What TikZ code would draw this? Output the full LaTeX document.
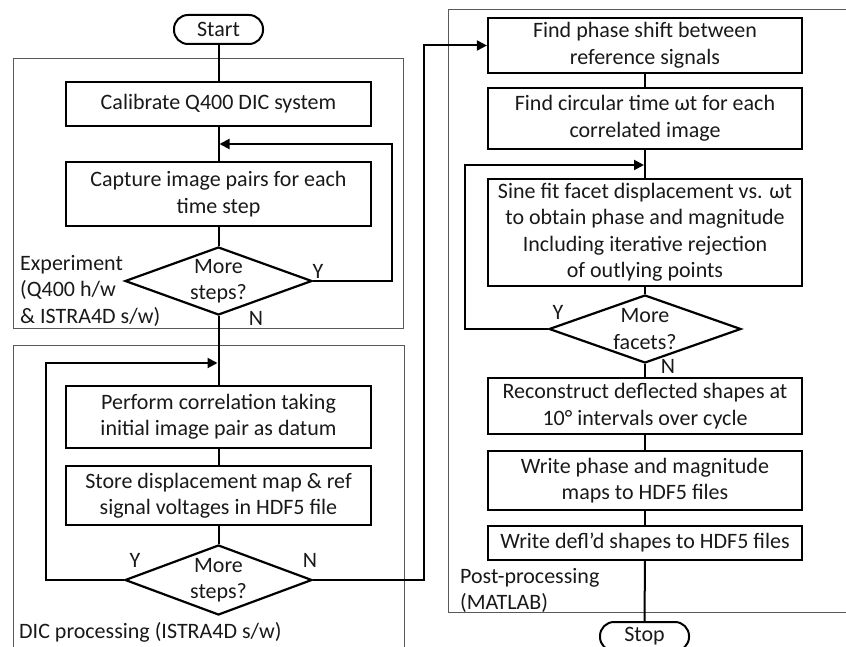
\documentclass[tikz,border=0pt]{standalone}
\usepackage{fontspec}
\setmainfont{Carlito}
\usetikzlibrary{arrows.meta,shapes.geometric}

\begin{document}
\begin{tikzpicture}[x=1pt, y=-1pt, >={Triangle[length=10pt,width=10pt]},
    every node/.style={font=\fontsize{22}{26.5}\selectfont, text=black!90},
    stepbox/.style={draw, line width=2.2pt, align=center, inner sep=0pt},
    leftbox/.style={stepbox, minimum width=305pt},
    rightbox/.style={stepbox, minimum width=314pt},
    terminal/.style={draw, line width=2pt, rounded corners=14pt, minimum width=89pt, minimum height=29pt, inner sep=0pt},
    decision/.style={draw, diamond, line width=2.2pt, inner sep=0pt},
    frame/.style={draw=black!65, line width=1pt},
    flow/.style={line width=2pt}]
    \useasboundingbox (0, 0) rectangle (846, 647);
    \clip (0, 0) rectangle (846, 647);
    \draw[frame] (13, 59) rectangle (403, 328);
    \draw[frame] (13, 345) rectangle (404, 670);
    \draw[frame] (448, 10) rectangle (870, 612);
    \node[terminal] (start) at (218.5, 29.5) {Start};
    \node[leftbox, minimum height=44pt] (calib) at (218.5, 104) {Calibrate Q400 DIC system};
    \node[leftbox, minimum height=64pt] (capture) at (218.5, 194) {Capture image pairs for each\\time step};
    \node[decision, minimum width=187pt, minimum height=68pt, label={[align=center]center:More\\steps?}] (dec1) at (218.5, 281) {};
    \node[leftbox, minimum height=62pt] (perform) at (218.5, 417) {Perform correlation taking\\initial image pair as datum};
    \node[leftbox, minimum height=59pt] (store) at (218.5, 495.5) {Store displacement map \& ref\\signal voltages in HDF5 file};
    \node[decision, minimum width=187pt, minimum height=70pt, label={[align=center]center:More\\steps?}] (dec2) at (218.5, 580) {};
    \node[rightbox, minimum height=55pt] (findphase) at (645, 45.5) {Find phase shift between\\reference signals};
    \node[rightbox, minimum height=61pt] (findcirc) at (645, 118.5) {Find circular time ωt for each\\correlated image};
    \node[rightbox, minimum height=107pt] (sine) at (645, 232.5) {Sine fit facet displacement vs. ωt\\to obtain phase and magnitude\\Including iterative rejection\\of outlying points};
    \node[decision, minimum width=192pt, minimum height=68pt, label={[align=center]center:More\\facets?}] (dec3) at (645, 329) {};
    \node[rightbox, minimum height=56pt] (recon) at (645, 406) {Reconstruct deflected shapes at\\10° intervals over cycle};
    \node[rightbox, minimum height=59pt] (writephase) at (645, 480.5) {Write phase and magnitude\\maps to HDF5 files};
    \node[rightbox, minimum height=34pt] (writedefl) at (645, 543) {Write defl'd shapes to HDF5 files};
    \node[terminal] (stop) at (644.5, 636.5) {Stop};
    \node[anchor=north west, align=left, inner sep=0pt] (exptag) at (20, 255) {Experiment\\(Q400 h/w\\\& ISTRA4D s/w)};
    \node[anchor=base west, inner sep=0pt] (dictag) at (19, 638) {DIC processing (ISTRA4D s/w)};
    \node[anchor=north west, align=left, inner sep=0pt] (posttag) at (460, 568) {Post-processing\\(MATLAB)};
    \node (y1) at (318, 271) {Y};
    \node (n1) at (256, 318) {N};
    \node (y2) at (135, 560) {Y};
    \node (n2) at (310, 560) {N};
    \node (y3) at (558, 312) {Y};
    \node (n3) at (668, 366) {N};
    \coordinate (join1) at (219.5, 144);
    \coordinate (join2) at (217.5, 363);
    \coordinate (join3) at (644, 165);
    \draw[flow] (start) -- (calib);
    \draw[flow] (calib) -- (capture);
    \draw[flow] (capture) -- (dec1);
    \draw[flow, ->] (dec1.east) -- ++(79, 0) |- (join1);
    \draw[flow] (dec1) -- (perform);
    \draw[flow, ->] (dec2.west) -- ++(-78, 0) |- (join2);
    \draw[flow] (perform) -- (store);
    \draw[flow] (store) -- (dec2);
    \draw[flow, ->] (dec2.east) -- ++(111, 0) |- (findphase.west);
    \draw[flow] (findphase) -- (findcirc);
    \draw[flow] (findcirc) -- (sine);
    \draw[flow] (sine) -- (dec3);
    \draw[flow, ->] (dec3.west) -- ++(-83, 0) |- (join3);
    \draw[flow] (dec3) -- (recon);
    \draw[flow] (recon) -- (writephase);
    \draw[flow] (writephase) -- (writedefl);
    \draw[flow] (writedefl) -- (stop);
  \end{tikzpicture}
\end{document}
